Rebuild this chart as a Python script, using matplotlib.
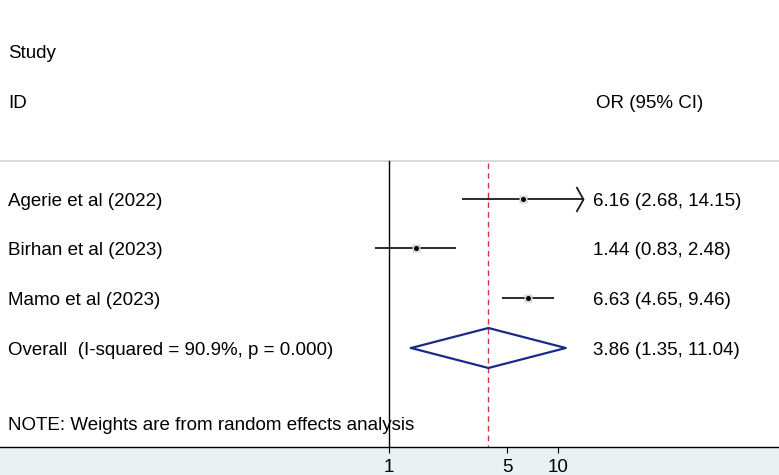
import matplotlib
matplotlib.use("Agg")
import matplotlib.pyplot as plt
import matplotlib.transforms as mtrans
from matplotlib.path import Path

plt.rcParams['font.family'] = ['Liberation Sans', 'DejaVu Sans']

studies = ["Agerie et al (2022)", "Birhan et al (2023)", "Mamo et al (2023)"]
or_vals = [6.16, 1.44, 6.63]
ci_low = [2.68, 0.83, 4.65]
ci_high = [14.15, 2.48, 9.46]
overall_label = "Overall  (I-squared = 90.9%, p = 0.000)"
overall_or = 3.86
overall_low = 1.35
overall_high = 11.04
xticks = [1, 5, 10]
clip_high = 13.9

W, H = 779, 475
fig = plt.figure(figsize=(W / 100, H / 100), dpi=100)
fig.patch.set_facecolor('#eaf1f3')
axis_y = 447
ax = fig.add_axes([0, (H - axis_y) / H, 1, axis_y / H])
ax.set_facecolor('white')
ax.set_xscale('log')
ax.set_xlim(0.00507, 200)
ax.set_ylim(axis_y, 0)
for s in ['top', 'left', 'right']:
    ax.spines[s].set_visible(False)
ax.spines['bottom'].set_linewidth(1.0)
ax.set_yticks([])
ax.set_xticks(xticks)
ax.set_xticklabels([str(t) for t in xticks])
ax.minorticks_off()
fs = 13.5
ax.tick_params(axis='x', direction='out', length=4.5, width=0.8, labelsize=fs, pad=4)

tx = mtrans.blended_transform_factory(ax.transAxes, ax.transData)
half_cap = 6.7

def px(x):
    return x / W

def label(x, y, s):
    ax.text(px(x), y + half_cap, s, transform=tx, fontsize=fs, va='baseline', ha='left')

label(8, 51, "Study")
label(8, 101, "ID")
label(596, 101, "OR (95% CI)")

ax.axhline(161, color='#cfcfcf', lw=1.1)

row_y = [199, 248, 298]
ov_y = 348
ax.plot([1, 1], [161, axis_y], color='black', lw=1.0)
ax.plot([overall_or, overall_or], [163, axis_y], color='#cc3344', lw=1.0,
        dashes=(4, 3))

chev = Path([(-0.56, 1), (0, 0), (-0.56, -1)], [Path.MOVETO, Path.LINETO, Path.LINETO])
for y, name, o, lo, hi in zip(row_y, studies, or_vals, ci_low, ci_high):
    label(8, y, name)
    label(593, y, f"{o:.2f} ({lo:.2f}, {hi:.2f})")
    right = min(hi, clip_high)
    ax.plot([lo, right], [y, y], color='#1a1a1a', lw=1.3, solid_capstyle='butt')
    if hi > clip_high:
        ax.plot([clip_high], [y], marker=chev, ms=18, mfc='none', mec='#1a1a1a', mew=1.3)
    ax.plot([o], [y], marker='s', ms=5.5, color='#d6d6d6', mec='none')
    ax.plot([o], [y], marker='o', ms=3.6, color='black', mec='none')

label(8, ov_y, overall_label)
label(593, ov_y, f"{overall_or:.2f} ({overall_low:.2f}, {overall_high:.2f})")
hh = 20
ax.plot([overall_low, overall_or, overall_high, overall_or, overall_low],
        [ov_y, ov_y - hh, ov_y, ov_y + hh, ov_y], color='#1b2a8a', lw=1.6)

label(8, 423, "NOTE: Weights are from random effects analysis")

fig.savefig("out.png", dpi=100, facecolor=fig.get_facecolor())
